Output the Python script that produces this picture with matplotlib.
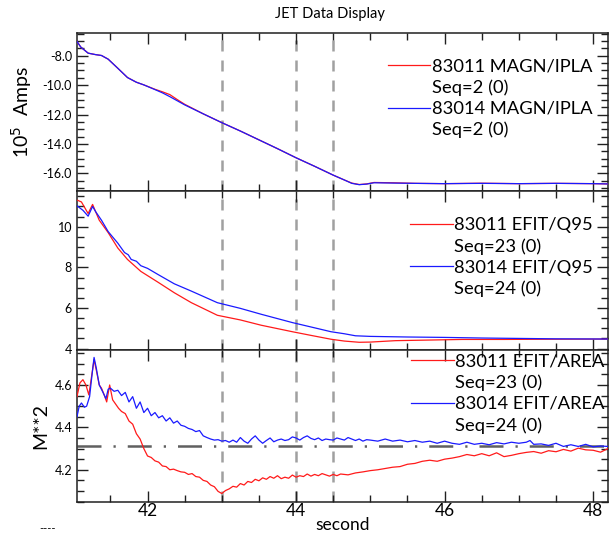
import matplotlib
matplotlib.use('Agg')
import matplotlib.pyplot as plt
from matplotlib.ticker import MultipleLocator, FormatStrFormatter

plt.rcParams.update({
    'font.family': ['Lato', 'DejaVu Sans'],
    'font.size': 10,
    'axes.linewidth': 1.1,
    'axes.edgecolor': '#202020',
})

# ------------------------------------------------------------
# Data
# ------------------------------------------------------------
# MAGN/IPLA, 10^5 A
t_ipla = [41.04, 41.10, 41.20, 41.30, 41.38, 41.47, 41.60, 41.73, 41.85, 41.95,
          42.10, 42.20, 42.30, 42.40, 42.50, 42.75, 43.00, 43.25, 43.50, 43.75,
          44.00, 44.25, 44.50, 44.65, 44.75, 44.85, 44.95, 45.05, 45.30, 45.60,
          46.00, 46.50, 47.00, 47.50, 48.00, 48.20]
ipla_83011 = [-6.95, -7.40, -7.82, -7.92, -7.98, -8.23, -8.85, -9.48, -9.80, -9.98,
              -10.28, -10.45, -10.64, -10.98, -11.30, -11.95, -12.55, -13.12, -13.72, -14.32,
              -14.94, -15.52, -16.12, -16.45, -16.66, -16.76, -16.72, -16.62, -16.64, -16.68,
              -16.70, -16.67, -16.70, -16.68, -16.70, -16.72]
ipla_83014 = [-6.95, -7.40, -7.82, -7.92, -7.98, -8.23, -8.85, -9.48, -9.80, -9.98,
              -10.30, -10.52, -10.78, -11.06, -11.34, -11.95, -12.55, -13.12, -13.72, -14.32,
              -14.94, -15.52, -16.12, -16.45, -16.68, -16.77, -16.73, -16.64, -16.66, -16.68,
              -16.70, -16.68, -16.70, -16.68, -16.70, -16.72]

# EFIT/Q95
t_q95_83011 = [41.04, 41.11, 41.20, 41.26, 41.30, 41.35, 41.47, 41.60, 41.73, 41.91,
               42.14, 42.36, 42.59, 42.94, 43.25, 43.53, 43.95, 44.20, 44.47, 44.65,
               44.85, 45.00, 45.34, 45.80, 46.24, 46.80, 47.40, 48.20]
q95_83011 = [11.33, 11.22, 10.65, 11.10, 10.75, 10.32, 9.71, 8.95, 8.39, 7.80,
             7.27, 6.75, 6.26, 5.64, 5.41, 5.15, 4.83, 4.65, 4.46, 4.37,
             4.31, 4.32, 4.39, 4.42, 4.45, 4.45, 4.46, 4.47]
t_q95_83014 = [41.04, 41.13, 41.20, 41.26, 41.30, 41.38, 41.47, 41.60, 41.69, 41.74,
               41.78, 41.85, 41.91, 42.00, 42.14, 42.36, 42.59, 42.94, 43.25, 43.53,
               43.95, 44.24, 44.47, 44.65, 44.80, 45.00, 45.50, 46.00, 46.50, 47.00,
               47.50, 48.20]
q95_83014 = [11.06, 10.81, 10.52, 11.00, 10.75, 10.32, 9.76, 9.19, 8.73, 8.62,
             8.39, 8.30, 8.08, 7.95, 7.65, 7.19, 6.83, 6.26, 5.98, 5.69,
             5.28, 5.03, 4.83, 4.73, 4.63, 4.60, 4.57, 4.55, 4.52, 4.50,
             4.48, 4.47]

# EFIT/AREA, m^2
t_area_83011 = [41.05, 41.09, 41.13, 41.17, 41.21, 41.24, 41.28, 41.31, 41.35, 41.38,
                41.42, 41.45, 41.49, 41.53, 41.57, 41.61, 41.65, 41.70, 41.75, 41.80,
                41.85, 41.90, 41.95, 42.00, 42.05, 42.10, 42.15, 42.20, 42.25, 42.30,
                42.35, 42.40, 42.45, 42.50, 42.55, 42.60, 42.65, 42.70, 42.75, 42.80,
                42.85, 42.90, 42.95, 43.00, 43.05, 43.10, 43.15, 43.20, 43.25, 43.30,
                43.35, 43.40, 43.45, 43.50, 43.55, 43.60, 43.65, 43.70, 43.75, 43.80,
                43.85, 43.90, 43.95, 44.00, 44.05, 44.10, 44.15, 44.20, 44.25, 44.30,
                44.35, 44.40, 44.45, 44.50, 44.55, 44.60, 44.70, 44.80, 44.90, 45.00,
                45.10, 45.20, 45.30, 45.40, 45.50, 45.60, 45.70, 45.80, 45.90, 46.00,
                46.10, 46.20, 46.30, 46.40, 46.50, 46.60, 46.70, 46.80, 46.90, 47.00,
                47.10, 47.20, 47.30, 47.40, 47.50, 47.60, 47.70, 47.80, 47.90, 48.00,
                48.10, 48.20]
area_83011 = [4.545, 4.610, 4.625, 4.600, 4.553, 4.625, 4.720, 4.670, 4.600, 4.585,
              4.550, 4.520, 4.600, 4.530, 4.510, 4.490, 4.475, 4.465, 4.430, 4.415,
              4.370, 4.345, 4.300, 4.265, 4.258, 4.242, 4.236, 4.218, 4.215, 4.200,
              4.203, 4.196, 4.190, 4.188, 4.178, 4.182, 4.168, 4.165, 4.150, 4.145,
              4.128, 4.120, 4.098, 4.088, 4.102, 4.110, 4.122, 4.118, 4.135, 4.128,
              4.145, 4.140, 4.155, 4.148, 4.162, 4.155, 4.168, 4.160, 4.172, 4.158,
              4.165, 4.160, 4.175, 4.165, 4.172, 4.168, 4.180, 4.170, 4.178, 4.172,
              4.182, 4.176, 4.170, 4.178, 4.172, 4.180, 4.176, 4.185, 4.190, 4.196,
              4.200, 4.206, 4.212, 4.215, 4.226, 4.230, 4.240, 4.245, 4.240, 4.250,
              4.255, 4.262, 4.272, 4.266, 4.276, 4.266, 4.280, 4.262, 4.268, 4.276,
              4.282, 4.286, 4.278, 4.290, 4.285, 4.296, 4.288, 4.302, 4.294, 4.292,
              4.283, 4.300]

t_area_83014 = [41.05, 41.08, 41.11, 41.15, 41.18, 41.22, 41.25, 41.28, 41.31, 41.35,
                41.40, 41.44, 41.47, 41.50, 41.55, 41.60, 41.65, 41.70, 41.75, 41.80,
                41.85, 41.90, 41.95, 42.00, 42.05, 42.10, 42.15, 42.20, 42.25, 42.30,
                42.35, 42.40, 42.45, 42.50, 42.55, 42.60, 42.65, 42.70, 42.75, 42.80,
                42.85, 42.90, 42.95, 43.00, 43.05, 43.10, 43.15, 43.20, 43.25, 43.30,
                43.35, 43.40, 43.45, 43.50, 43.55, 43.60, 43.65, 43.70, 43.75, 43.80,
                43.85, 43.90, 43.95, 44.00, 44.05, 44.10, 44.15, 44.20, 44.25, 44.30,
                44.35, 44.40, 44.45, 44.50, 44.55, 44.60, 44.65, 44.70, 44.75, 44.80,
                44.85, 44.90, 44.95, 45.00, 45.10, 45.20, 45.30, 45.40, 45.50, 45.60,
                45.70, 45.80, 45.90, 46.00, 46.10, 46.20, 46.30, 46.40, 46.50, 46.60,
                46.70, 46.80, 46.90, 47.00, 47.10, 47.15, 47.20, 47.30, 47.40, 47.50,
                47.60, 47.70, 47.80, 47.90, 48.00, 48.10, 48.20]
area_83014 = [4.450, 4.500, 4.515, 4.495, 4.500, 4.545, 4.640, 4.730, 4.680, 4.600,
              4.565, 4.535, 4.580, 4.585, 4.570, 4.575, 4.550, 4.565, 4.520, 4.545,
              4.490, 4.520, 4.470, 4.490, 4.455, 4.470, 4.445, 4.455, 4.430, 4.445,
              4.420, 4.430, 4.410, 4.405, 4.395, 4.390, 4.380, 4.385, 4.360, 4.352,
              4.345, 4.340, 4.342, 4.335, 4.338, 4.330, 4.340, 4.330, 4.352, 4.335,
              4.325, 4.345, 4.360, 4.340, 4.325, 4.338, 4.350, 4.332, 4.340, 4.345,
              4.338, 4.342, 4.355, 4.350, 4.340, 4.352, 4.360, 4.348, 4.342, 4.350,
              4.338, 4.345, 4.342, 4.340, 4.350, 4.345, 4.340, 4.352, 4.345, 4.338,
              4.345, 4.335, 4.342, 4.340, 4.335, 4.345, 4.335, 4.340, 4.332, 4.338,
              4.330, 4.335, 4.325, 4.335, 4.325, 4.320, 4.330, 4.320, 4.325, 4.318,
              4.328, 4.322, 4.330, 4.325, 4.330, 4.338, 4.320, 4.322, 4.315, 4.325,
              4.310, 4.318, 4.310, 4.320, 4.308, 4.312, 4.310]

markers_t = [43.0, 44.0, 44.5]
area_ref = 4.312

labels_ipla = ['83011 MAGN/IPLA', 'Seq=2 (0)', '83014 MAGN/IPLA', 'Seq=2 (0)']
labels_q95 = ['83011 EFIT/Q95', 'Seq=23 (0)', '83014 EFIT/Q95', 'Seq=24 (0)']
labels_area = ['83011 EFIT/AREA', 'Seq=23 (0)', '83014 EFIT/AREA', 'Seq=24 (0)']

RED = '#ff1a1a'
BLUE = '#1a1aff'
XLIM = (41.05, 48.2)

# ------------------------------------------------------------
# Figure
# ------------------------------------------------------------
fig = plt.figure(figsize=(6.1, 5.35), dpi=100)
ax1 = fig.add_axes([0.1262, 0.6430, 0.8705, 0.2953])
ax2 = fig.add_axes([0.1262, 0.3458, 0.8705, 0.2972])
ax3 = fig.add_axes([0.1262, 0.0617, 0.8705, 0.2841])


def style_axis(ax, ylim, ymaj, ymin, fmt=None):
    ax.set_xlim(*XLIM)
    ax.set_ylim(*ylim)
    ax.xaxis.set_major_locator(MultipleLocator(2))
    ax.xaxis.set_minor_locator(MultipleLocator(0.5))
    ax.yaxis.set_major_locator(MultipleLocator(ymaj))
    ax.yaxis.set_minor_locator(MultipleLocator(ymin))
    if fmt:
        ax.yaxis.set_major_formatter(FormatStrFormatter(fmt))
    ax.tick_params(which='both', direction='in', top=True, right=True,
                   color='#202020', labelsize=9)
    ax.tick_params(which='major', length=8, width=1.0)
    ax.tick_params(which='minor', length=5, width=1.0)
    for t in markers_t:
        ax.axvline(t, color='#a0a0a0', lw=1.8, dashes=(4.4, 3.6), zorder=1)


def add_legend(ax, h_red, h_blue, labels, anchor):
    blank = plt.Line2D([], [], linestyle='none')
    ax.legend([h_red, blank, h_blue, blank], labels, loc='upper right',
              bbox_to_anchor=anchor, frameon=False, fontsize=13.2,
              handlelength=2.3, handletextpad=0.1, labelspacing=0.27,
              borderaxespad=0.0)


# top: plasma current
h1r, = ax1.plot(t_ipla, ipla_83011, color=RED, lw=0.9, zorder=3)
h1b, = ax1.plot(t_ipla, ipla_83014, color=BLUE, lw=0.9, zorder=4)
style_axis(ax1, (-17.2, -6.45), 2, 0.5, '%.1f')
ax1.tick_params(labelbottom=False)
ax1.set_ylabel(r'10$^5$  Amps', fontsize=14, labelpad=6)
add_legend(ax1, h1r, h1b, labels_ipla, (0.985, 0.885))

# middle: q95
h2r, = ax2.plot(t_q95_83011, q95_83011, color=RED, lw=0.9, zorder=3)
h2b, = ax2.plot(t_q95_83014, q95_83014, color=BLUE, lw=0.9, zorder=4)
style_axis(ax2, (3.93, 11.76), 2, 0.5)
ax2.tick_params(labelbottom=False)
add_legend(ax2, h2r, h2b, labels_q95, (0.986, 0.882))

# bottom: area
h3r, = ax3.plot(t_area_83011, area_83011, color=RED, lw=0.9, zorder=3)
h3b, = ax3.plot(t_area_83014, area_83014, color=BLUE, lw=0.9, zorder=4)
ax3.axhline(area_ref, color='#606060', lw=1.8, dashes=(9.6, 4.8, 0.9, 4.8), zorder=2)
style_axis(ax3, (4.048, 4.765), 0.2, 0.05, '%.1f')
ax3.set_xlabel('second', fontsize=12.5, labelpad=-2)
ax3.set_ylabel('M**2', fontsize=14, labelpad=4)
ax3.tick_params(axis='x', labelsize=12.5, pad=1)
add_legend(ax3, h3r, h3b, labels_area, (1.008, 1.025))

fig.text(0.541, 0.973, 'JET Data Display', ha='center', va='center', fontsize=10.5)
fig.text(0.065, 0.002, '----', ha='left', va='bottom', fontsize=8)

fig.savefig('out.png', dpi=100)
